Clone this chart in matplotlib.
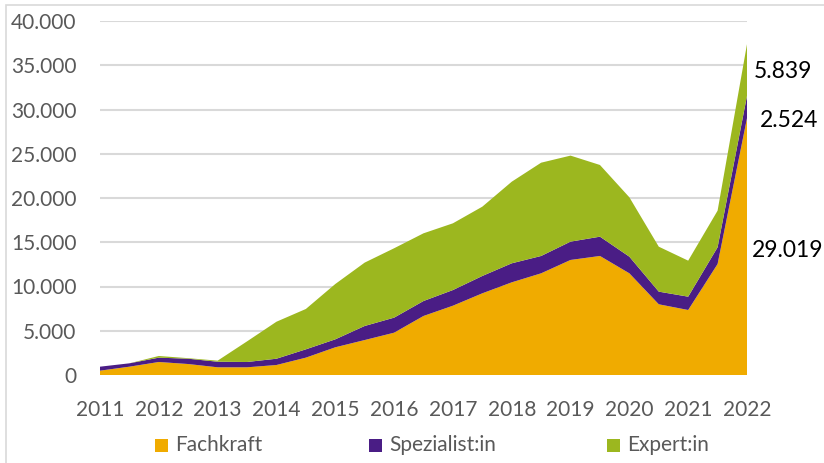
import numpy as np
import matplotlib
matplotlib.use('Agg')
import matplotlib.pyplot as plt
from matplotlib.patches import Rectangle
import matplotlib.ticker as ticker

plt.rcParams['font.family'] = ['Lato', 'DejaVu Sans']

# Halbjahreswerte 2011 bis 2022
jahre = [str(j) for j in range(2011, 2023)]
fachkraft = [490, 940, 1470, 1240, 870, 870, 1130, 1960, 3130, 3950, 4780, 6670,
             7830, 9230, 10470, 11490, 13000, 13450, 11490, 7990, 7345, 12540, 29019]
spezialist = [450, 380, 490, 600, 630, 600, 710, 940, 900, 1590, 1700, 1690,
              1770, 1960, 2150, 1960, 2070, 2180, 1880, 1430, 1505, 1890, 2524]
experte = [0, 0, 190, 60, 120, 2330, 4180, 4560, 6250, 7160, 7840, 7650,
           7540, 7830, 9220, 10540, 9720, 8100, 6710, 5080, 4070, 4140, 5839]

namen = ['Fachkraft', 'Spezialist:in', 'Expert:in']
farben = ['#F0AB00', '#4A1D85', '#9CB71F']
grau = '#595959'

x = np.arange(len(fachkraft))

fig = plt.figure(figsize=(8.24, 4.63), dpi=100)
ax = fig.add_axes([100 / 824, 1 - 375 / 463, 647 / 824, 354 / 463])

ax.stackplot(x, fachkraft, spezialist, experte, colors=farben, linewidth=0)

ax.set_xlim(0, len(x) - 1)
ax.set_ylim(0, 40000)
ax.yaxis.set_major_locator(ticker.MultipleLocator(5000))
ax.yaxis.set_major_formatter(ticker.FuncFormatter(lambda v, p: f'{int(v):,}'.replace(',', '.')))
ax.set_xticks(x[::2])
ax.set_xticklabels(jahre)
ax.tick_params(axis='both', length=0, labelsize=15, colors=grau)
ax.tick_params(axis='y', pad=17)
ax.tick_params(axis='x', pad=18)
ax.grid(axis='y', color='#D9D9D9', linewidth=1.5)
ax.set_axisbelow(True)
for s in ax.spines.values():
    s.set_visible(False)

# Datenbeschriftungen am letzten Punkt
letzte = [fachkraft[-1], spezialist[-1], experte[-1]]
label_pos = [(0.17, 14120), (0.44, 28800), (0.24, 34240)]
for wert, (dx, yy) in zip(letzte, label_pos):
    ax.text(len(x) - 1 + dx, yy, f'{wert:,}'.replace(',', '.'), fontsize=16.5,
            color='black', va='center', ha='left', clip_on=False)

# Legende
leg_x = [155, 369, 607]
leg_y = 1 - 445 / 463
for lx, name, farbe in zip(leg_x, namen, farben):
    fig.patches.append(Rectangle((lx / 824, 1 - 452 / 463), 13 / 824, 13 / 463,
                                 transform=fig.transFigure, facecolor=farbe, edgecolor='none'))
    fig.text((lx + 20) / 824, leg_y, name, fontsize=15, color=grau, va='center', ha='left')

# Rahmen des Diagrammbereichs
fig.patches.append(Rectangle((6 / 824, -0.1), 1.2, 1 - 5 / 463 + 0.1, transform=fig.transFigure,
                             fill=False, edgecolor='#D9D9D9', linewidth=1.2))

fig.savefig('out.png', dpi=100)
